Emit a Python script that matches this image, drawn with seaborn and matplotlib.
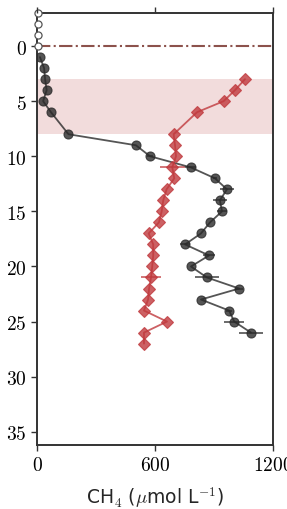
import numpy as np
import pandas as pd
import matplotlib
matplotlib.use("Agg")
import matplotlib.pyplot as plt
import seaborn as sns

# open circles above the sediment surface
air_depth = [-3, -2, -1, 0]
air_ch4 = [5, 5, 5, 5]

# black profile
core1_depth = [1, 2, 3, 4, 5, 6, 8, 9, 10, 11, 12, 13, 14, 15, 16, 17, 18, 19, 20, 21, 22, 23, 24, 25, 26]
core1_ch4 = [15, 36, 41, 49, 31, 71, 160, 503, 575, 781, 905, 966, 930, 941, 880, 834, 753, 875, 783, 864, 1028, 834, 977, 1003, 1088]
core1_err = [0, 0, 0, 0, 0, 0, 0, 0, 15, 30, 10, 35, 35, 25, 0, 0, 25, 30, 0, 61, 20, 0, 15, 51, 61]

# red profile
core2_depth = [3, 4, 5, 6, 8, 9, 10, 11, 12, 13, 14, 15, 16, 17, 18, 19, 20, 21, 22, 23, 24, 25, 26, 27]
core2_ch4 = [1058, 1007, 949, 814, 695, 702, 707, 688, 698, 659, 642, 634, 620, 568, 591, 591, 586, 580, 570, 565, 544, 661, 544, 544]
core2_err = [0, 0, 0, 0, 0, 0, 0, 64, 0, 0, 0, 0, 0, 0, 0, 0, 0, 51, 0, 0, 0, 0, 0, 0]

band = (3, 8)
surface = 0
xticks = [0, 600, 1200]
xticklabels = ["$0$", "$600$", "$1200$"]
top_labels = ["$0$", "$75$", "$150$"]
yticks = [0, 5, 10, 15, 20, 25, 30, 35]

sns.set_style("ticks")
plt.rcParams["mathtext.fontset"] = "cm"
plt.rcParams["font.family"] = ["DejaVu Sans"]

fig = plt.figure(figsize=(2.87, 5.10), dpi=100)
ax = fig.add_axes([0.129, 0.1255, 0.822, 0.847])

ax.axhspan(band[0], band[1], color="#f2dcdc", lw=0, zorder=0)
ax.axhline(surface, color="#8c524c", lw=1.5, ls="-.", zorder=1)

black = "#2a2a2a"
red = "#c0393d"

df1 = pd.DataFrame({"depth": core1_depth, "ch4": core1_ch4})
df2 = pd.DataFrame({"depth": core2_depth, "ch4": core2_ch4})

ax.errorbar(core1_ch4, core1_depth, xerr=core1_err, fmt="none", ecolor=black, alpha=0.75, lw=1.3, zorder=2)
ax.errorbar(core2_ch4, core2_depth, xerr=core2_err, fmt="none", ecolor=red, alpha=0.75, lw=1.3, zorder=2)

sns.lineplot(data=df1, x="ch4", y="depth", sort=False, estimator=None, ax=ax,
             color=black, alpha=0.8, lw=1.3, marker="o", markersize=6.5,
             markeredgecolor=black, markeredgewidth=0.8, zorder=3)
sns.lineplot(data=df2, x="ch4", y="depth", sort=False, estimator=None, ax=ax,
             color=red, alpha=0.8, lw=1.3, marker="D", markersize=6,
             markeredgecolor=red, markeredgewidth=0.8, zorder=3)
ax.scatter(air_ch4, air_depth, s=26, facecolors="white", edgecolors="#555555",
           linewidths=0.9, zorder=4, clip_on=False)

ax.set_xlim(0, 1200)
ax.set_ylim(36.2, -3)
ax.set_xticks(xticks)
ax.set_xticklabels(xticklabels, fontsize=14)
ax.set_yticks(yticks)
ax.set_yticklabels(["$%d$" % t for t in yticks], fontsize=14)
ax.set_xlabel("CH$_4$ ($\\mu$mol L$^{-1}$)", fontsize=13.5, labelpad=7)
ax.set_ylabel("")

for s in ax.spines.values():
    s.set_color("#333333")
    s.set_linewidth(1.4)
ax.tick_params(colors="#333333", width=1.0, length=4)
ax.tick_params(axis="x", labelcolor="black")
ax.tick_params(axis="y", labelcolor="black")

top = ax.twiny()
top.set_xlim(0, 1200)
top.set_xticks(xticks)
top.set_xticklabels(top_labels, fontsize=14)
top.tick_params(colors="#333333", width=1.0, length=4, labelcolor="black", pad=3)
for s in top.spines.values():
    s.set_visible(False)

fig.savefig("out.png", dpi=100)
